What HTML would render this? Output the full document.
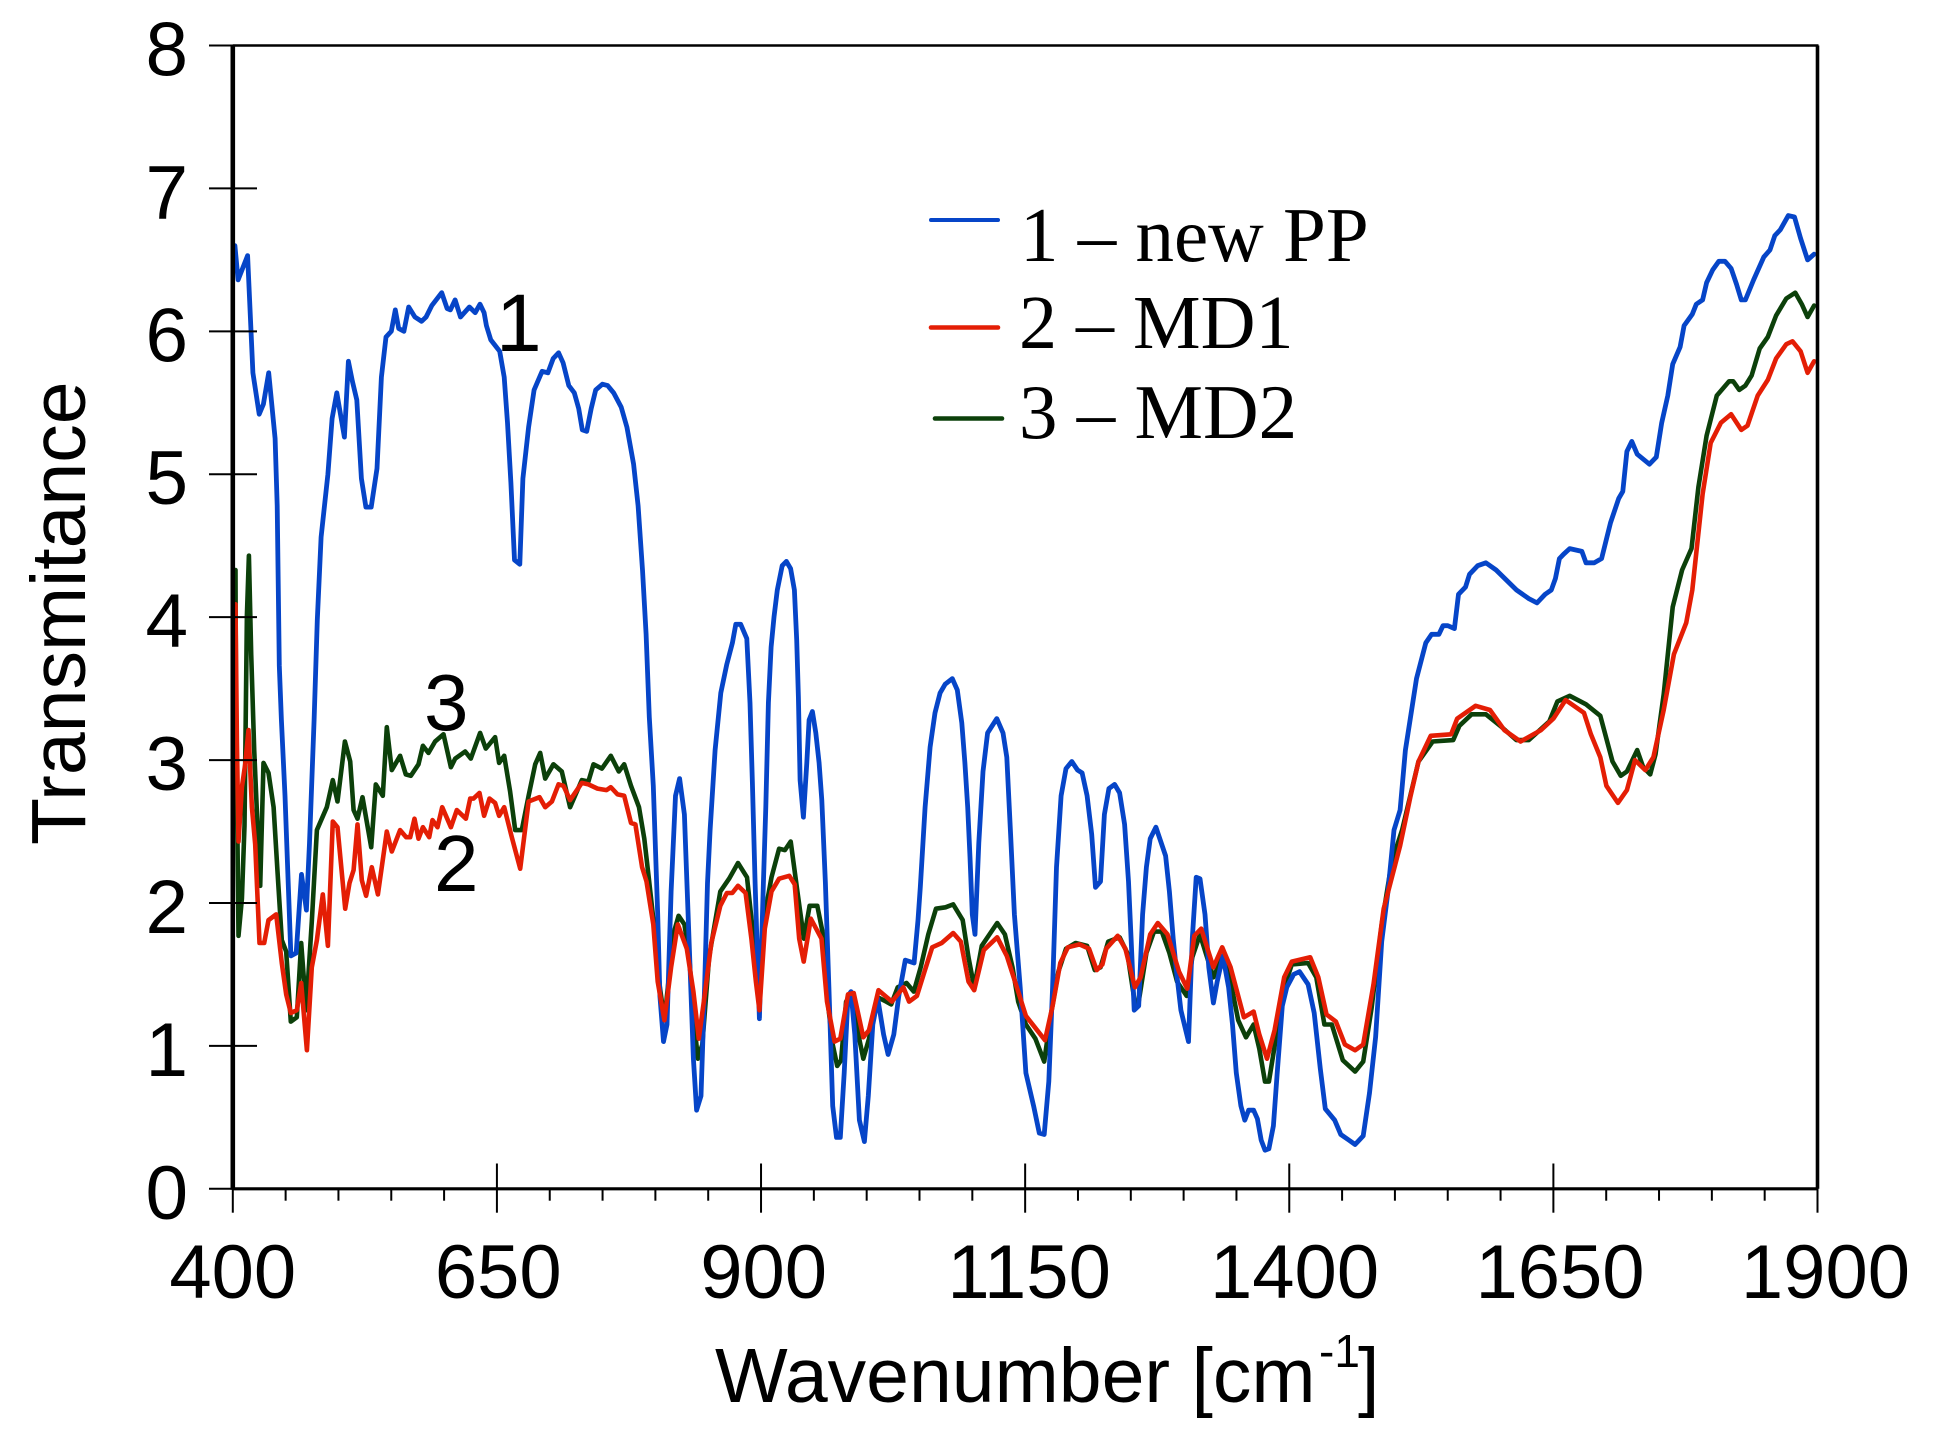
<!DOCTYPE html>
<html lang="en">
<head>
<meta charset="utf-8">
<title>Transmittance spectra</title>
<style>
html,body{margin:0;padding:0;background:#fff;}
svg{display:block;}
text{fill:#000;}
.sans{font-family:"Liberation Sans",Arial,sans-serif;}
.serif{font-family:"Liberation Serif","Times New Roman",serif;}
</style>
</head>
<body>
<svg id="chart" xmlns="http://www.w3.org/2000/svg" width="1941" height="1449" viewBox="0 0 1941 1449">
  <rect x="0" y="0" width="1941" height="1449" fill="#ffffff"/>
  <g id="series-layer"></g>
  <g id="axes-layer"></g>

  <text class="sans" font-size="77" transform="translate(85,845) rotate(-90)">Transmitance</text>
  <text class="sans" font-size="77" x="715" y="1402">Wavenumber [cm</text>
  <text class="sans" font-size="46" x="1319" y="1367">-1</text>
  <text class="sans" font-size="77" x="1358" y="1402">]</text>

  <text class="sans" font-size="82" x="496" y="351">1</text>
  <text class="sans" font-size="80" x="424" y="730">3</text>
  <text class="sans" font-size="80" x="434" y="891">2</text>

  <g>
    <line x1="931" y1="220" x2="998" y2="220" stroke="#0645c8" stroke-width="4" stroke-linecap="round"/>
    <text class="serif" font-size="77" x="1020" y="261">1 – new PP</text>
    <line x1="931" y1="327.5" x2="998" y2="327.5" stroke="#e41e05" stroke-width="4.6" stroke-linecap="round"/>
    <text class="serif" font-size="76" x="1019" y="348">2 – MD1</text>
    <line x1="935" y1="418.5" x2="1002" y2="418.5" stroke="#0c400a" stroke-width="4.6" stroke-linecap="round"/>
    <text class="serif" font-size="77" x="1019" y="438">3 – MD2</text>
  </g>
</svg>

<script>
// Axis values
const xTickValues = [400, 650, 900, 1150, 1400, 1650, 1900];
const xMinorValues = [450, 500, 550, 600, 700, 750, 800, 850, 950, 1000, 1050, 1100, 1200, 1250, 1300, 1350, 1450, 1500, 1550, 1600, 1700, 1750, 1800, 1850];
const yTickValues = [0, 1, 2, 3, 4, 5, 6, 7, 8];

// Series 1 - new PP
const newPpWavenumber = [
402,405,414,419,425,429,434,440,442,444,
446,449.4,455,460,465,469.7,472.6,477,480,483.6,
490,494,498.4,505.6,509.4,513.2,517.4,521.7,526,531,
536.5,540.7,545,550,553.8,557,562,566.5,572.4,578.7,
583,588.4,597.7,602.8,606,610.4,615.5,624,629.4,634,
637.9,640,644.2,652.6,656.9,660,663.2,666.6,671.7,674.6,
680,685.2,692.8,698.3,703.3,708.4,712.6,718,723.2,727.4,
730.8,735,739.2,743.5,749.8,754.9,760.4,767.6,773,779.4,
783.6,787.8,791.2,794.2,798,802.2,804.3,807.7,811,814.9,
819,822.9,827.5,831.8,836,839,843.2,846.6,849.3,851.8,
856.5,861.9,867.6,872.9,876.1,880.8,886.5,889.6,891.8,894.4,
898.5,902.2,904.5,907,909.5,912.3,915.4,920,924,928,
931.6,933.8,935.4,937,940.1,943.3,945.5,948.6,951.8,955,
957.5,959.7,960.9,964.2,967.8,971.4,975,978.7,982.3,985.2,
988.8,993.1,997.8,1001.5,1005.8,1010.5,1016,1020.3,1025.7,1030.4,
1036.6,1044.9,1048.6,1050.8,1055.3,1060,1064.7,1069.5,1074.2,1081,
1085.8,1090,1093,1095.6,1097.8,1100,1102.5,1106.1,1110.1,1114.5,
1123.2,1129,1132.6,1136.2,1139.8,1145.3,1150.7,1158,1163.4,1168,
1172.4,1176,1179.7,1184,1188.7,1194.2,1199.6,1203.9,1208.6,1213,
1216.6,1221.3,1225,1229.3,1234.7,1239.4,1244.1,1247.8,1250.3,1253.2,
1257.5,1261.2,1264.8,1268.4,1273.8,1282.9,1286.5,1290.1,1293.8,1297.4,
1304.6,1308.2,1311.9,1315.5,1320.2,1323.8,1328.2,1331.8,1337.2,1342.6,
1346.3,1349.9,1354.2,1357.9,1361.5,1366.2,1369.8,1373.4,1377,1380.7,
1385,1388.6,1393.4,1397.7,1404.2,1409.7,1417.8,1423.6,1429.4,1434.1,
1443,1448.8,1456.5,1462.3,1470,1475.9,1481.7,1487.5,1493.3,1499.1,
1504.9,1509.9,1514.6,1520.4,1529.2,1534.7,1541.6,1545.5,1550.1,1556.3,
1560.2,1566.8,1570.6,1578.4,1586.1,1595.8,1615.1,1626.7,1634.5,1642.2,
1648,1651.9,1655.7,1659.6,1665.4,1677,1680.9,1688.6,1695.6,1704.1,
1711.8,1715.7,1719.6,1724.2,1729.3,1740.9,1747.4,1752.5,1758.3,1762.9,
1769.9,1773.7,1781.5,1785.3,1791.2,1795,1800.8,1806.6,1812.4,1818.2,
1823.3,1827.9,1831.8,1839.5,1849.2,1855,1859.6,1864.7,1872.4,1878.2,
1884,1890.6,1896.8
];
const newPpTransmittance = [
6.60,6.36,6.53,5.71,5.42,5.49,5.71,5.25,4.78,3.66,
3.28,2.75,1.63,1.65,2.2,1.95,2.42,3.28,3.98,4.56,
5.0,5.39,5.57,5.26,5.79,5.65,5.52,4.97,4.77,4.77,
5.04,5.68,5.96,6.0,6.15,6.02,6.0,6.17,6.1,6.07,
6.1,6.18,6.27,6.16,6.15,6.22,6.1,6.17,6.13,6.19,
6.13,6.04,5.94,5.86,5.68,5.36,4.94,4.40,4.37,4.97,
5.33,5.59,5.72,5.71,5.81,5.85,5.78,5.62,5.57,5.46,
5.31,5.30,5.46,5.59,5.63,5.62,5.57,5.47,5.33,5.07,
4.78,4.33,3.88,3.30,2.82,1.92,1.35,1.03,1.15,2.08,
2.75,2.87,2.62,1.75,0.91,0.55,0.65,1.41,2.14,2.51,
3.07,3.47,3.67,3.82,3.95,3.95,3.85,3.40,2.84,2.14,
1.19,2.14,2.67,3.40,3.79,4.00,4.19,4.36,4.39,4.34,
4.19,3.84,3.44,2.86,2.60,2.98,3.28,3.34,3.19,2.98,
2.72,2.35,2.14,1.41,0.58,0.36,0.36,0.81,1.35,1.38,
1.08,0.48,0.33,0.65,1.15,1.33,1.08,0.94,1.08,1.35,
1.60,1.58,1.88,2.11,2.67,3.09,3.33,3.47,3.53,3.57,
3.49,3.26,2.98,2.67,2.32,1.92,1.78,2.42,2.92,3.19,
3.29,3.19,3.02,2.48,1.92,1.41,0.81,0.58,0.39,0.38,
0.75,1.41,2.25,2.75,2.94,2.99,2.93,2.91,2.75,2.48,
2.11,2.15,2.62,2.80,2.83,2.77,2.55,2.15,1.75,1.25,
1.28,1.92,2.25,2.45,2.53,2.33,2.08,1.75,1.48,1.25,
1.03,1.75,2.18,2.17,1.92,1.55,1.30,1.45,1.63,1.41,
1.15,0.81,0.58,0.48,0.55,0.55,0.49,0.34,0.27,0.28,
0.44,0.81,1.28,1.41,1.50,1.52,1.43,1.23,0.84,0.56,
0.48,0.38,0.34,0.31,0.37,0.67,1.06,1.73,2.07,2.51,
2.65,3.07,3.29,3.57,3.82,3.88,3.88,3.94,3.94,3.92,
4.16,4.21,4.30,4.36,4.38,4.33,4.19,4.13,4.10,4.16,
4.19,4.27,4.41,4.44,4.48,4.46,4.38,4.38,4.41,4.66,
4.83,4.88,5.16,5.23,5.14,5.07,5.12,5.36,5.55,5.77,
5.89,6.04,6.12,6.19,6.22,6.34,6.43,6.49,6.49,6.44,
6.33,6.22,6.22,6.36,6.52,6.57,6.67,6.71,6.81,6.80,
6.65,6.50,6.54
];

// Series 2 - MD1
const md1Wavenumber = [
402.6,403.9,405.4,408.6,411.7,414.9,418.1,421.2,425.3,429.7,
433.8,441.1,446.4,450.5,454.9,460.6,464.7,470.1,474.8,479.6,
485.2,490,494.7,499.1,506.4,510.5,514.3,518,522.1,526.2,
531.6,537.3,545.8,550.5,558.4,564.1,567.9,572,575.8,579.9,
585.9,589,593.8,598.2,606.4,612,620.6,624.7,627.8,633.5,
637.9,643,648.3,652.1,656.9,664.1,672,680,690.3,695.7,
702,708.3,713,719.3,730.3,736.6,745.2,753.7,757.8,764.2,
770.5,776.9,781.1,787.4,791.6,798,802.2,808.5,814.9,821.2,
829.7,836,841.1,846.6,852.9,861.4,867.7,872.8,878.2,885.4,
890.9,895.1,898.5,903.6,909.9,917.1,926.8,931.9,936.1,940.4,
947.1,957.2,962.4,969.6,975,982.3,987.7,996.8,1002.2,1011.2,
1023.9,1034.8,1040.2,1047.5,1054.7,1062,1071,1081.9,1089.1,1096.4,
1101.8,1110.9,1123.5,1132.6,1143.4,1150.7,1168.8,1176,1183.3,1190.5,
1201.4,1210.4,1217.7,1223.1,1226.7,1237.6,1244.9,1253.9,1259.3,1268.4,
1275.6,1284.7,1295.6,1303.5,1310.1,1316.6,1320.9,1328.2,1336.5,1344.5,
1357.1,1366.2,1371.6,1378.9,1386.1,1395.2,1402.4,1419.8,1427.5,1435.2,
1444.1,1452.7,1462.3,1470,1479.7,1489.4,1504.9,1514.6,1522.3,1533.9,
1553.2,1559,1576.4,1590,1603.5,1619,1638.3,1650,1661.6,1679,
1685.5,1694.4,1700.2,1711.1,1719.6,1727.3,1737,1744.7,1754.4,1764.1,
1775.7,1781.5,1791.2,1798.9,1808.6,1818.2,1827.9,1833.7,1843.4,1853,
1860.8,1870.5,1876.3,1884,1890.6,1896.8
];
const md1Transmittance = [
4.09,3.13,2.43,2.81,2.97,3.21,2.67,2.41,1.72,1.72,
1.88,1.92,1.58,1.36,1.23,1.25,1.44,0.97,1.55,1.74,
2.06,1.70,2.57,2.53,1.96,2.14,2.23,2.55,2.16,2.05,
2.25,2.06,2.50,2.36,2.51,2.46,2.46,2.59,2.45,2.53,
2.46,2.58,2.53,2.67,2.53,2.65,2.59,2.73,2.73,2.77,
2.61,2.73,2.70,2.61,2.67,2.46,2.24,2.71,2.74,2.67,
2.71,2.83,2.82,2.72,2.84,2.83,2.80,2.79,2.81,2.76,
2.75,2.56,2.55,2.25,2.15,1.85,1.45,1.18,1.55,1.85,
1.68,1.38,1.05,1.35,1.72,1.98,2.07,2.07,2.12,2.07,
1.75,1.45,1.25,1.82,2.08,2.17,2.19,2.13,1.75,1.59,
1.89,1.75,1.31,1.03,1.05,1.36,1.37,1.06,1.11,1.39,
1.31,1.41,1.31,1.35,1.52,1.69,1.72,1.79,1.73,1.45,
1.39,1.67,1.76,1.63,1.38,1.21,1.04,1.28,1.58,1.69,
1.71,1.68,1.53,1.57,1.68,1.77,1.68,1.41,1.48,1.78,
1.86,1.78,1.52,1.40,1.77,1.82,1.72,1.55,1.69,1.55,
1.20,1.24,1.08,0.91,1.11,1.48,1.59,1.62,1.48,1.22,
1.17,1.01,0.97,1.01,1.43,1.96,2.40,2.74,2.99,3.17,
3.18,3.29,3.38,3.35,3.21,3.13,3.21,3.29,3.42,3.33,
3.18,3.02,2.82,2.70,2.79,3.00,2.93,3.02,3.35,3.74,
3.96,4.19,4.86,5.22,5.36,5.42,5.31,5.34,5.55,5.66,
5.81,5.91,5.93,5.86,5.71,5.79
];

// Series 3 - MD2
const md2Wavenumber = [
402.6,402.9,405.4,408.6,411.1,413.3,415.2,417.4,420.3,423.4,
425.9,429.1,433.8,438.6,442.3,446.4,450.5,454.9,460.6,464.7,
469.5,474.8,479.6,489,494.7,499.1,506.1,511.1,514.3,518,
522.8,531,535.4,542,545.8,550.5,558.4,563.8,568.5,575.8,
579.9,585.2,591.5,599.4,606.4,610.5,620,625.3,634.1,639.5,
648.3,652.1,656.9,662.5,667.3,673.6,680,686.2,691,695.7,
703.5,711.4,719.3,730.3,736.6,741.4,749.4,757.8,765.4,770.5,
776.9,784.5,789.5,793.7,800.1,804.3,808.5,812.8,817,822,
827.5,831.8,836,840.2,844.4,850.8,861.4,869.8,878.2,886.7,
893,898.5,903.6,909.9,917.1,922.6,928.1,934.4,940.6,946,
953.3,958.7,962.4,967.8,972.1,975.8,980.5,985.9,991.3,996.8,
1002.2,1010.5,1018.5,1023.2,1029.4,1037.7,1044.6,1051.1,1058.3,1065.6,
1074.6,1081.9,1090.9,1096.4,1101.8,1109,1116.3,1123.5,1130.8,1138,
1143.4,1150.7,1159.7,1168,1174.2,1181.5,1188.7,1197.8,1208.6,1215.9,
1221.3,1228.6,1239.4,1246.7,1253.9,1257.5,1264.8,1272,1279.3,1286.5,
1293.8,1302.8,1308.2,1315.5,1320.9,1328.2,1337.2,1344.5,1351.7,1359,
1366.2,1371.6,1377,1380.7,1387.9,1395.2,1402.4,1417.8,1425.6,1433.3,
1440.3,1450.7,1462.3,1470,1477.8,1487.5,1497.1,1506.8,1522.3,1535.8,
1555.2,1561,1572.6,1586.1,1599.7,1615.1,1626.7,1646.1,1653.8,1665.4,
1680.9,1694.4,1706,1713.8,1719.6,1729.3,1735,1741.6,1746.7,1754.4,
1762.9,1771.8,1780.7,1787.3,1795,1804.7,1816.3,1820.2,1826,1831.8,
1837.6,1845.3,1853,1860.8,1870.5,1879,1885.1,1890.6,1896.8
];
const md2Transmittance = [
4.33,3.48,1.77,2.03,2.54,4.01,4.43,3.74,3.07,2.54,
2.12,2.98,2.91,2.67,2.22,1.74,1.66,1.17,1.20,1.72,
1.25,1.87,2.51,2.67,2.86,2.71,3.13,2.99,2.65,2.59,
2.74,2.39,2.83,2.75,3.23,2.93,3.03,2.90,2.89,2.97,
3.10,3.05,3.13,3.18,2.95,3.01,3.06,3.01,3.19,3.08,
3.16,2.98,3.03,2.78,2.51,2.51,2.75,2.97,3.05,2.87,
2.97,2.92,2.67,2.86,2.85,2.97,2.94,3.03,2.92,2.97,
2.82,2.67,2.45,2.18,1.75,1.41,1.18,1.48,1.78,1.91,
1.85,1.65,1.21,0.91,1.01,1.62,2.08,2.17,2.28,2.18,
1.75,1.28,1.92,2.18,2.38,2.37,2.43,2.08,1.75,1.98,
1.98,1.78,1.35,1.01,0.86,0.90,1.31,1.37,1.11,0.91,
1.05,1.34,1.31,1.29,1.41,1.44,1.38,1.55,1.78,1.96,
1.97,1.99,1.88,1.62,1.41,1.70,1.78,1.86,1.78,1.55,
1.31,1.15,1.05,0.89,1.21,1.52,1.68,1.72,1.70,1.53,
1.55,1.73,1.76,1.65,1.30,1.31,1.65,1.80,1.80,1.65,
1.45,1.35,1.62,1.78,1.65,1.48,1.63,1.45,1.18,1.06,
1.15,0.98,0.75,0.75,1.08,1.41,1.57,1.58,1.48,1.15,
1.15,0.90,0.82,0.89,1.26,1.85,2.29,2.51,2.99,3.13,
3.14,3.24,3.32,3.32,3.24,3.14,3.14,3.27,3.41,3.45,
3.39,3.31,2.99,2.89,2.92,3.07,2.95,2.90,3.04,3.46,
4.07,4.33,4.48,4.91,5.27,5.55,5.65,5.65,5.59,5.62,
5.69,5.88,5.96,6.11,6.23,6.27,6.19,6.10,6.18
];

const NS = 'http://www.w3.org/2000/svg';
const plotLeft = 232.8, plotRight = 1817.5, plotTop = 45.5, plotBottom = 1188.8;
function xScale(v) { return plotLeft + (v - 400) * (plotRight - plotLeft) / 1500; }
function yScale(t) { return plotBottom - t * (plotBottom - plotTop) / 8; }
function xLabelPos(v) { return xScale(v) + (v - 400) * 0.0053; }

function makeLine(x1, y1, x2, y2, w) {
  const el = document.createElementNS(NS, 'line');
  el.setAttribute('x1', x1);
  el.setAttribute('y1', y1);
  el.setAttribute('x2', x2);
  el.setAttribute('y2', y2);
  el.setAttribute('stroke', '#000');
  el.setAttribute('stroke-width', w);
  return el;
}

const seriesLayer = document.getElementById('series-layer');
const axesLayer = document.getElementById('axes-layer');

function drawSeries(name, xs, ys, color, width) {
  const el = document.createElementNS(NS, 'polyline');
  const pts = xs.map(function (v, i) { return xScale(v).toFixed(1) + ',' + yScale(ys[i]).toFixed(1); }).join(' ');
  el.setAttribute('points', pts);
  el.setAttribute('fill', 'none');
  el.setAttribute('stroke', color);
  el.setAttribute('stroke-width', width);
  el.setAttribute('stroke-linejoin', 'round');
  el.setAttribute('stroke-linecap', 'round');
  
  
  seriesLayer.appendChild(el);
}

drawSeries('series-md2', md2Wavenumber, md2Transmittance, '#0c400a', 4.6);
drawSeries('series-new-pp', newPpWavenumber, newPpTransmittance, '#0645c8', 4.8);
drawSeries('series-md1', md1Wavenumber, md1Transmittance, '#e41e05', 4.6);

const topAxis = makeLine(plotLeft, plotTop, plotRight + 1, plotTop, 2.4);


axesLayer.appendChild(topAxis);

const rightAxis = makeLine(plotRight, plotTop, plotRight, plotBottom, 3.6);


axesLayer.appendChild(rightAxis);

const leftAxis = makeLine(plotLeft, plotTop - 1, plotLeft, plotBottom + 1, 4.6);


axesLayer.appendChild(leftAxis);

const bottomAxis = makeLine(plotLeft, plotBottom, plotRight + 1, plotBottom, 3.2);


axesLayer.appendChild(bottomAxis);

yTickValues.forEach(function (t) {
  const y = yScale(t);
  const tick = makeLine(209, y, 257, y, 2);
  
  
  axesLayer.appendChild(tick);
  const label = document.createElementNS(NS, 'text');
  label.setAttribute('x', 188);
  label.setAttribute('y', y + 30);
  label.setAttribute('text-anchor', 'end');
  label.setAttribute('font-size', '76.5');
  label.setAttribute('class', 'sans');
  
  
  label.textContent = String(t);
  axesLayer.appendChild(label);
});

xTickValues.forEach(function (v) {
  const x = xScale(v);
  const tick = makeLine(x, 1163.5, x, 1212.7, 2);
  
  
  axesLayer.appendChild(tick);
  const label = document.createElementNS(NS, 'text');
  label.setAttribute('x', xLabelPos(v));
  label.setAttribute('y', 1298);
  label.setAttribute('text-anchor', 'middle');
  label.setAttribute('font-size', '76');
  label.setAttribute('class', 'sans');
  
  
  label.textContent = String(v);
  axesLayer.appendChild(label);
});

xMinorValues.forEach(function (v) {
  const x = xScale(v);
  const tick = makeLine(x, plotBottom, x, 1200.7, 2);
  
  
  axesLayer.appendChild(tick);
});
</script>
</body>
</html>
